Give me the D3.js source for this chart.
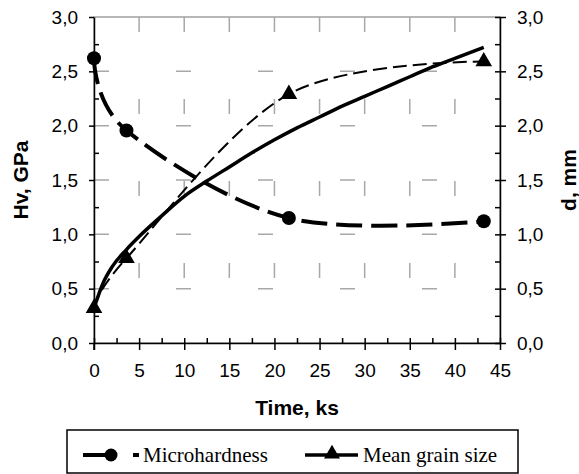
<!DOCTYPE html>
<html><head><meta charset="utf-8">
<script src="https://cdn.jsdelivr.net/npm/d3@7"></script>
<style>
body{margin:0;background:#fff;}
svg{display:block;}
</style></head>
<body>
<svg id="chart" width="579" height="474"></svg>
<script>
// ---- data ----
const timeKs = [0, 3.6, 21.6, 43.2];
const microhardness = [2.62, 1.955, 1.15, 1.12];
const grainSize = [0.32, 0.78, 2.29, 2.59];
// solid trend curve of the grain size
const trendTime = [0, 1, 2, 3.6, 5, 7.5, 10, 12.5, 15, 17.5, 20, 22.5, 25, 27.5, 30, 32.5, 35, 37.5, 40, 43.2];
const trendValue = [0.32, 0.55, 0.70, 0.86, 0.98, 1.17, 1.35, 1.49, 1.62, 1.75, 1.87, 1.98, 2.08, 2.18, 2.27, 2.36, 2.45, 2.54, 2.62, 2.72];
const xTicks = [0, 5, 10, 15, 20, 25, 30, 35, 40, 45];
const xMinorTicks = [2.5, 7.5, 12.5, 17.5, 22.5, 27.5, 32.5, 37.5, 42.5];
const yTicks = [0, 0.5, 1.0, 1.5, 2.0, 2.5, 3.0];
const yMinorTicks = [0.25, 0.75, 1.25, 1.75, 2.25, 2.75];
const seriesNames = ["Microhardness", "Mean grain size"];
const xTitle = "Time, ks";
const yLeftTitle = "Hv, GPa";
const yRightTitle = "d, mm";

// ---- layout ----
const svg = d3.select("#chart");
const L = 94, R = 500, T = 17, B = 343;
const x = d3.scaleLinear().domain([0, 45]).range([L, R]);
const y = d3.scaleLinear().domain([0, 3]).range([B, T]);
const fmt = d => d3.format(".1f")(d).replace(".", ",");
const tickFont = "'Liberation Sans', Arial, sans-serif";

// plot border (gray)
svg.append("rect").attr("x", L).attr("y", T).attr("width", R - L).attr("height", B - T)
  .attr("fill", "none").attr("stroke", "#a0a0a0").attr("stroke-width", 1.5);

// gridlines
const grid = svg.append("g").attr("stroke", "#a8a8a8").attr("stroke-width", 1.5).attr("stroke-dasharray", "15,67");
grid.selectAll("line.h").data(yTicks.filter(d => d > 0 && d < 3)).join("line")
  .attr("x1", L).attr("x2", R).attr("y1", d => y(d)).attr("y2", d => y(d));
grid.selectAll("line.v").data(xTicks.filter(d => d > 0 && d < 45)).join("line")
  .attr("y1", T).attr("y2", B).attr("x1", d => x(d)).attr("x2", d => x(d));

// axes
function styleAxis(g) {
  g.selectAll(".domain").attr("stroke", "#000").attr("stroke-width", 1.5);
  g.selectAll(".tick line").attr("stroke", "#000").attr("stroke-width", 1.5);
  g.selectAll("text").attr("font-family", tickFont).attr("font-size", 19).attr("fill", "#000");
}
// bottom
const gxOut = svg.append("g").attr("transform", `translate(0,${B})`)
  .call(d3.axisBottom(x).tickValues(xTicks).tickFormat(d3.format("d")).tickSize(7).tickPadding(14).tickSizeOuter(0));
styleAxis(gxOut);
const gxIn = svg.append("g").attr("transform", `translate(0,${B})`)
  .call(d3.axisBottom(x).tickValues(xTicks.concat(xMinorTicks)).tickFormat("").tickSize(-5).tickSizeOuter(0));
styleAxis(gxIn); gxIn.select(".domain").remove();
// left
const gyOut = svg.append("g").attr("transform", `translate(${L},0)`)
  .call(d3.axisLeft(y).tickValues(yTicks).tickFormat(fmt).tickSize(5).tickPadding(11).tickSizeOuter(0));
styleAxis(gyOut);
const gyIn = svg.append("g").attr("transform", `translate(${L},0)`)
  .call(d3.axisLeft(y).tickValues(yMinorTicks).tickFormat("").tickSize(-5).tickSizeOuter(0));
styleAxis(gyIn); gyIn.select(".domain").remove();
// right
const gyrOut = svg.append("g").attr("transform", `translate(${R},0)`)
  .call(d3.axisRight(y).tickValues(yTicks).tickFormat(fmt).tickSize(6).tickPadding(11).tickSizeOuter(0));
styleAxis(gyrOut);
const gyrIn = svg.append("g").attr("transform", `translate(${R},0)`)
  .call(d3.axisRight(y).tickValues(yTicks.concat(yMinorTicks)).tickFormat("").tickSize(-5).tickSizeOuter(0));
styleAxis(gyrIn); gyrIn.select(".domain").remove();
svg.append("line").attr("x1", x(0)).attr("x2", x(0)).attr("y1", y(0)).attr("y2", y(0) + 7).attr("stroke", "#000").attr("stroke-width", 1.5);

// axis titles
const titleFont = "'Liberation Sans', Arial, sans-serif";
svg.append("text").attr("x", (L + R) / 2).attr("y", 415).attr("text-anchor", "middle")
  .attr("font-family", titleFont).attr("font-weight", "bold").attr("font-size", 21).text(xTitle);
svg.append("text").attr("transform", `translate(28,${(T + B) / 2}) rotate(-90)`).attr("text-anchor", "middle")
  .attr("font-family", titleFont).attr("font-weight", "bold").attr("font-size", 21).text(yLeftTitle);
svg.append("text").attr("transform", `translate(576,${(T + B) / 2}) rotate(-90)`).attr("text-anchor", "middle")
  .attr("font-family", titleFont).attr("font-weight", "bold").attr("font-size", 21).text(yRightTitle);

// ---- series ----
const plot = svg.append("g");
const lineGen = d3.line().x(d => x(d[0])).y(d => y(d[1]));
// trend (solid)
plot.append("path").datum(trendTime.map((t, i) => [t, trendValue[i]]))
  .attr("d", lineGen.curve(d3.curveMonotoneX)).attr("fill", "none").attr("stroke", "#000").attr("stroke-width", 3.5);
// grain size dashed
const gsPts = timeKs.map((t, i) => [t, grainSize[i]]);
plot.append("path").datum(gsPts)
  .attr("d", d3.line().x(d => x(d[0])).y(d => y(d[1])).curve(d3.curveCardinal.tension(0)))
  .attr("fill", "none").attr("stroke", "#000").attr("stroke-width", 2).attr("stroke-dasharray", "14,6");
// microhardness dashed
const mhPts = timeKs.map((t, i) => [t, microhardness[i]]);
plot.append("path").datum(mhPts)
  .attr("d", d3.line().x(d => x(d[0])).y(d => y(d[1])).curve(d3.curveCardinal.tension(0)))
  .attr("fill", "none").attr("stroke", "#000").attr("stroke-width", 4).attr("stroke-dasharray", "26,9");
// markers
plot.selectAll("circle.mh").data(mhPts).join("circle")
  .attr("cx", d => x(d[0])).attr("cy", d => y(d[1])).attr("r", 7).attr("fill", "#000");
const tri = d3.symbol().type(d3.symbolTriangle).size(120);
plot.selectAll("path.gs").data(gsPts).join("path")
  .attr("transform", d => `translate(${x(d[0])},${y(d[1])})`).attr("d", tri).attr("fill", "#000");

// ---- legend ----
const lg = svg.append("g");
lg.append("rect").attr("x", 67).attr("y", 430).attr("width", 451).attr("height", 43)
  .attr("fill", "#fff").attr("stroke", "#000").attr("stroke-width", 1.5);
lg.append("line").attr("x1", 83).attr("x2", 139).attr("y1", 455).attr("y2", 455)
  .attr("stroke", "#000").attr("stroke-width", 4).attr("stroke-dasharray", "27,23");
lg.append("circle").attr("cx", 111).attr("cy", 455).attr("r", 6.5).attr("fill", "#000");
lg.append("text").attr("x", 143).attr("y", 462).attr("font-family", "'Liberation Serif', 'Times New Roman', serif")
  .attr("font-size", 21).text(seriesNames[0]);
lg.append("line").attr("x1", 305).attr("x2", 358).attr("y1", 455).attr("y2", 455)
  .attr("stroke", "#000").attr("stroke-width", 3.5);
lg.append("path").attr("transform", "translate(332,454)").attr("d", d3.symbol().type(d3.symbolTriangle).size(110)).attr("fill", "#000");
lg.append("text").attr("x", 363).attr("y", 462).attr("font-family", "'Liberation Serif', 'Times New Roman', serif")
  .attr("font-size", 21).text(seriesNames[1]);
</script>
</body></html>
